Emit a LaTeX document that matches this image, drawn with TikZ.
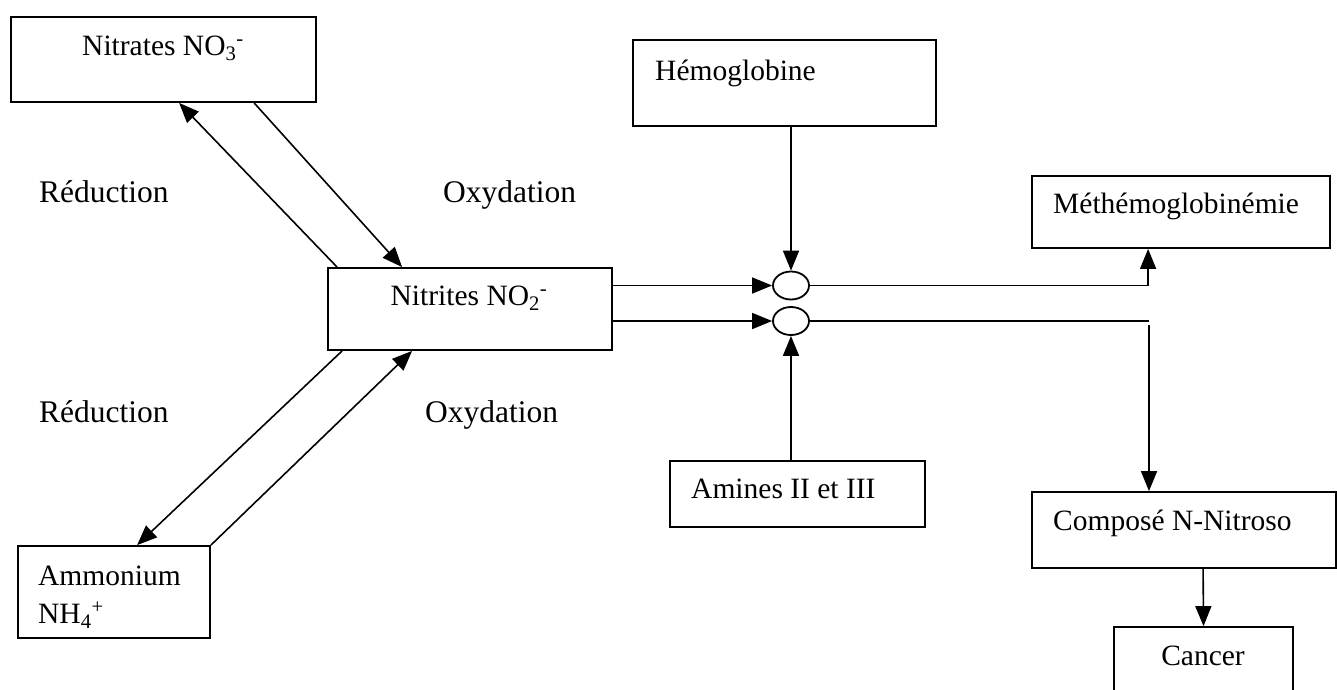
\documentclass[tikz,border=0pt]{standalone}
\usepackage{fontspec}
\setmainfont{Liberation Serif}
\usetikzlibrary{arrows.meta,calc,shapes.geometric}
\begin{document}
\begin{tikzpicture}[x=1pt,y=-1pt,
 box/.style={draw, line width=1.8pt, inner sep=0pt},
 lbl/.style={font=\fontsize{29.5}{36}\selectfont, inner sep=0pt},
 sidelbl/.style={font=\fontsize{31.5}{38}\selectfont, inner sep=0pt},
 conn/.style={line width=1.6pt, -{Triangle[length=20pt,width=16pt]}},
 plain/.style={line width=1.6pt},
 junc/.style={draw, ellipse, line width=1.8pt, minimum width=36pt, minimum height=28pt, inner sep=0pt}]
\path[use as bounding box, clip] (0,0) rectangle (1337,689);
\fill[white] (0,0) rectangle (1337,689);

% boxes
\node[box, minimum width=305pt, minimum height=85pt] (nitrates) at (163.5,59.5) {};
\node[box, minimum width=284pt, minimum height=82pt] (nitrites) at (470,309) {};
\node[box, minimum width=192pt, minimum height=92pt] (ammonium) at (114,592) {};
\node[box, minimum width=303pt, minimum height=86pt] (hemo) at (784.5,83) {};
\node[box, minimum width=298pt, minimum height=72pt] (methemo) at (1181,212) {};
\node[box, minimum width=255pt, minimum height=66pt] (amines) at (797.5,494) {};
\node[box, minimum width=304pt, minimum height=76pt] (compose) at (1184,530) {};
\node[box, minimum width=179pt, minimum height=93pt] (cancer) at (1203.5,673.5) {};

% junction circles
\node[junc] (c1) at (791,285.5) {};
\node[junc] (c2) at (791,321) {};

% texts
\node[lbl, anchor=base] (tnitrates) at (163,55) {Nitrates NO\textsubscript{3}\textsuperscript{-}};
\node[lbl, anchor=base] (tnitrites) at (469,305) {Nitrites NO\textsubscript{2}\textsuperscript{-}};
\node[lbl, anchor=base west] (tammo1) at (38,585) {Ammonium};
\node[lbl, anchor=base west] (tammo2) at (38,623) {NH\textsubscript{4}\textsuperscript{+}};
\node[lbl, anchor=base west] (themo) at (655,80) {Hémoglobine};
\node[lbl, anchor=base west] (tmethemo) at (1053,213) {Méthémoglobinémie};
\node[lbl, anchor=base west] (tamines) at (691,498) {Amines II et III};
\node[lbl, anchor=base west] (tcompose) at (1053,530) {Composé N-Nitroso};
\node[lbl, anchor=base] (tcancer) at (1203,665) {Cancer};
\node[sidelbl, anchor=base west] (red1) at (39,202) {Réduction};
\node[sidelbl, anchor=base west] (oxy1) at (443,202) {Oxydation};
\node[sidelbl, anchor=base west] (red2) at (39,422) {Réduction};
\node[sidelbl, anchor=base west] (oxy2) at (425,422) {Oxydation};

% connectors
\draw[conn] ($(nitrites.north west)+(10,0)$) -- ($(nitrates.south west)+(169,0)$);
\draw[conn] ($(nitrates.south west)+(244,0)$) -- ($(nitrites.north west)+(75,0)$);
\draw[conn] ($(nitrites.south west)+(15,0)$) -- ($(ammonium.north west)+(120,0)$);
\draw[conn] (ammonium.north east) -- ($(nitrites.south west)+(85,0)$);

\draw[conn] (nitrites.east |- c1.west) -- (c1.west);
\draw[conn] (nitrites.east |- c2.west) -- (c2.west);
\draw[conn] (c1.north |- hemo.south) -- (c1.north);
\draw[conn] (c2.south |- amines.north) -- (c2.south);

\draw[conn] (c1.east) -| ($(methemo.south west)+(117,0)$);
\coordinate (j2) at (1149,321);
\draw[plain] (c2.east) -- (j2);
\coordinate (j3) at (1149,325);
\draw[conn] (j3) -- (j3 |- compose.north);
\draw[conn] ($(compose.south west)+(172,0)$) -- (cancer.north);
\end{tikzpicture}
\end{document}
